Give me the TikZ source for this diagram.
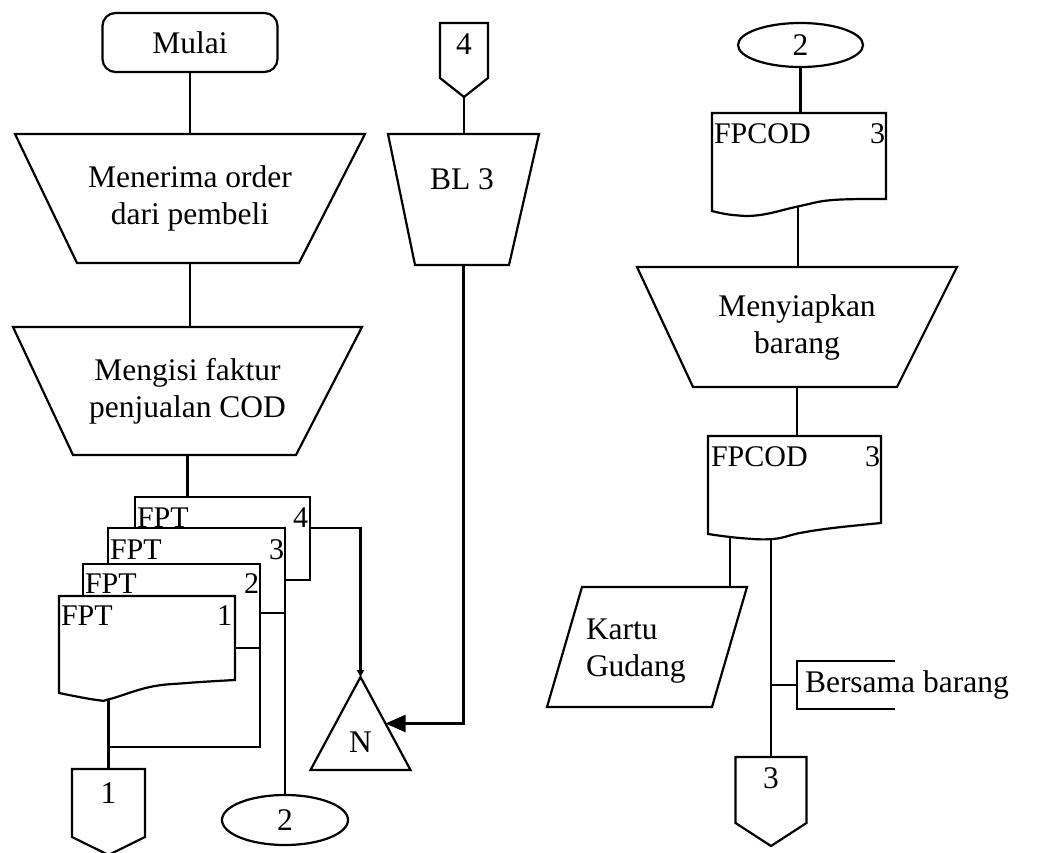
\documentclass[tikz,border=0pt]{standalone}
\usepackage{fontspec}
\setmainfont{Liberation Serif}
\usetikzlibrary{calc,arrows.meta,shapes.geometric}
\begin{document}
\begin{tikzpicture}[x=1pt,y=-1pt,line width=2.2pt,
  txt/.style={font=\fontsize{31.5}{37}\selectfont,inner sep=0pt,outer sep=0pt},
  doctxt/.style={font=\fontsize{30}{36}\selectfont,inner sep=0pt,outer sep=0pt},
  frame/.style={draw=none,inner sep=0pt,outer sep=0pt},
  sheet/.style={draw,fill=white,inner sep=0pt,outer sep=0pt},
  bigarrow/.style={-{Triangle[length=20pt,width=17pt]}},
  smallarrow/.style={-{Triangle[length=7pt,width=7pt]}}]
\fill[white] (0,0) rectangle (1037,853);
\useasboundingbox (0,0) rectangle (1037,853);

% ---------- left column ----------
\node[draw,rounded corners=13pt,minimum width=175pt,minimum height=59pt,txt] (mulai) at (190,42.5) {Mulai};

\node[frame,txt,align=center,minimum width=350pt,minimum height=129pt] (t1) at (190,198.5) {Menerima order\\dari pembeli};
\draw (t1.north west) -- (t1.north east) -- ([xshift=-66pt]t1.south east) -- ([xshift=62pt]t1.south west) -- cycle;

\node[frame,txt,align=center,minimum width=349pt,minimum height=128pt] (t2) at (187.5,391) {Mengisi faktur\\penjualan COD};
\draw (t2.north west) -- (t2.north east) -- ([xshift=-66pt]t2.south east) -- ([xshift=60pt]t2.south west) -- cycle;

% stacked copies of the invoice
\node[sheet,minimum width=175pt,minimum height=83pt] (fpt4) at (222.5,538.5) {};
\node[sheet,minimum width=177pt,minimum height=85pt] (fpt3) at (196.5,570.5) {};
\node[sheet,minimum width=177pt,minimum height=84pt] (fpt2) at (171.5,606) {};
\node[frame,minimum width=176pt,minimum height=104pt] (fpt1) at (147,648) {};
\filldraw[fill=white] (fpt1.north west) -- (fpt1.north east) -- plot[smooth,tension=0.7] coordinates {(235,680) (187,683) (150,687) (110,699) (97,700) (59,693)} -- cycle;

\node[doctxt,anchor=base west] (fpt4name) at (137,527) {FPT};
\node[doctxt,anchor=base east] (fpt4no) at (308,527) {4};
\node[doctxt,anchor=base west] (fpt3name) at (110,559) {FPT};
\node[doctxt,anchor=base east] (fpt3no) at (284,559) {3};
\node[doctxt,anchor=base west] (fpt2name) at (85,593) {FPT};
\node[doctxt,anchor=base east] (fpt2no) at (259,593) {2};
\node[doctxt,anchor=base west] (fpt1name) at (61,625) {FPT};
\node[doctxt,anchor=base east] (fpt1no) at (232,625) {1};

% off-page connector 1
\node[frame,minimum width=73pt,minimum height=86pt] (off1) at (108.5,812) {};
\draw (off1.north west) -- (off1.north east) -- ([yshift=18pt]off1.south east) -- (off1.south) -- ([yshift=18pt]off1.south west) -- cycle;
\node[txt] (off1no) at (108.5,793) {1};

% on-page connector 2
\node[draw,ellipse,txt,minimum width=126pt,minimum height=50pt] (conb) at (285,820) {2};

% archive N
\node[frame,minimum width=100pt,minimum height=93pt] (arch) at (360.5,723.5) {};
\draw (arch.north) -- (arch.south east) -- (arch.south west) -- cycle;
\node[txt] (archN) at (360.5,742) {N};

% ---------- middle column ----------
\node[frame,minimum width=48pt,minimum height=74pt] (off4) at (464,60) {};
\draw (off4.north west) -- (off4.north east) -- ([yshift=19pt]off4.south east) -- (off4.south) -- ([yshift=19pt]off4.south west) -- cycle;
\node[txt] (off4no) at (464,44) {4};

\node[frame,minimum width=151pt,minimum height=131pt] (bl3) at (463.5,199.5) {};
\draw (bl3.north west) -- (bl3.north east) -- ([xshift=-30pt]bl3.south east) -- ([xshift=27pt]bl3.south west) -- cycle;
\node[txt,anchor=base] (bl3txt) at (462,190) {BL 3};

% ---------- right column ----------
\node[draw,ellipse,txt,minimum width=125pt,minimum height=44pt] (cont) at (800.5,45) {2};

\node[frame,minimum width=174pt,minimum height=103pt] (cod1) at (799,164.5) {};
\filldraw[fill=white] (cod1.north west) -- (cod1.north east) -- plot[smooth,tension=0.7] coordinates {(886,199) (833,200) (800,206) (760,215) (733,215) (712,211)} -- cycle;
\node[doctxt,anchor=base west] (cod1name) at (714,144) {FPCOD};
\node[doctxt,anchor=base east] (cod1no) at (885,144) {3};

\node[frame,txt,align=center,minimum width=320pt,minimum height=120pt] (t3) at (797,327) {Menyiapkan\\barang};
\draw (t3.north west) -- (t3.north east) -- ([xshift=-60pt]t3.south east) -- ([xshift=56pt]t3.south west) -- cycle;

\node[frame,minimum width=173pt,minimum height=104pt] (cod2) at (794.5,488) {};
\filldraw[fill=white] (cod2.north west) -- (cod2.north east) -- plot[smooth,tension=0.7] coordinates {(881,523) (833,528) (800,533) (773,539) (740,538) (708,534)} -- cycle;
\node[doctxt,anchor=base west] (cod2name) at (711,466) {FPCOD};
\node[doctxt,anchor=base east] (cod2no) at (880,466) {3};

\node[frame,minimum width=200pt,minimum height=120pt] (kg) at (647,647) {};
\draw ([xshift=35pt]kg.north west) -- (kg.north east) -- ([xshift=-35pt]kg.south east) -- (kg.south west) -- cycle;
\node[txt,anchor=base west] (kg1) at (586,639) {Kartu};
\node[txt,anchor=base west] (kg2) at (586,676) {Gudang};

\node[frame,minimum width=98pt,minimum height=48pt] (bb) at (846,685) {};
\draw (bb.north east) -- (bb.north west) -- (bb.south west) -- (bb.south east);
\node[txt,anchor=base west] (bbtxt) at (805,692) {Bersama barang};

\node[frame,minimum width=71pt,minimum height=89pt] (off3) at (771,801.5) {};
\draw (off3.north west) -- (off3.north east) -- ([yshift=23pt]off3.south east) -- (off3.south) -- ([yshift=23pt]off3.south west) -- cycle;
\node[txt] (off3no) at (771,778) {3};

% ---------- connectors ----------
\coordinate (j1) at (108.5,747);
\coordinate (c1out) at (798,206);
\coordinate (c2a) at (730,537);
\coordinate (c2b) at (771,539);

\draw (mulai.south) -- (mulai.south |- t1.north);
\draw (t1.south) -- (t1.south |- t2.north);
\draw (t2.south) -- (t2.south |- fpt4.north);
\draw (off1.north |- fpt1.south) -- (off1.north);
\draw (fpt2.south east) |- (j1);
\draw (fpt3.south east) -- (fpt3.south east |- conb.north);
\draw[smallarrow] ([yshift=-31pt]fpt4.north east) -| (arch.north);
\draw (off4.south) -- (off4.south |- bl3.north);
\draw[bigarrow] (bl3.south) |- ($(arch.north)!0.5!(arch.south east)$);

\draw (cont.south) -- (cont.south |- cod1.north);
\draw (c1out) -- (c1out |- t3.north);
\draw (t3.south) -- (t3.south |- cod2.north);
\draw (c2a) -- (c2a |- kg.north);
\draw (c2b) -- (c2b |- off3.north);
\draw (c2b |- bb.west) -- (bb.west);
\end{tikzpicture}
\end{document}
